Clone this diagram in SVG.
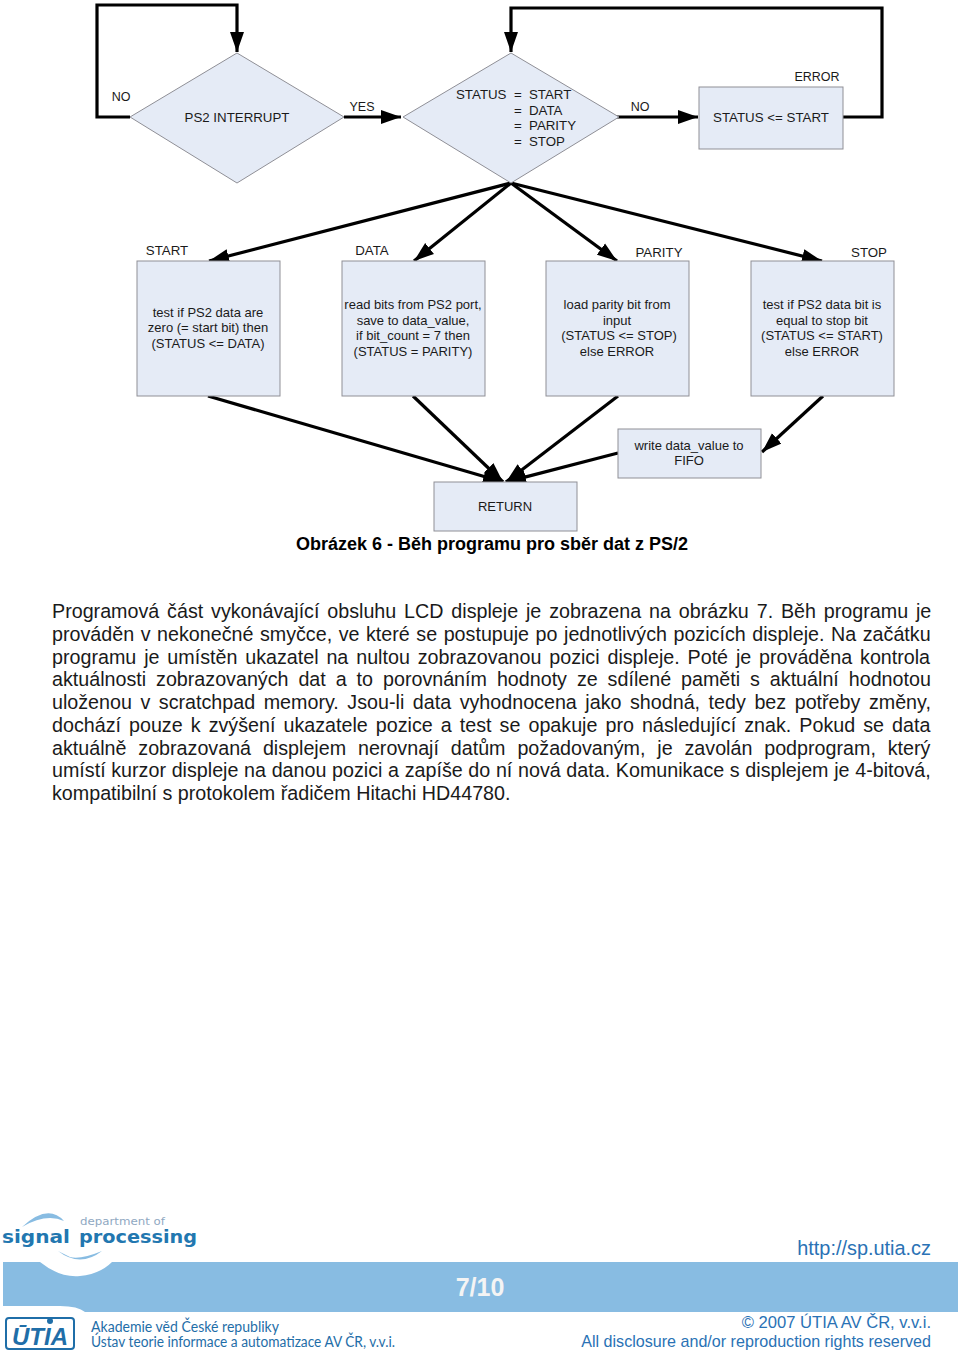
<svg xmlns="http://www.w3.org/2000/svg" width="960" height="1353" viewBox="0 0 960 1353">
<style>
text{font-family:"Liberation Sans",Arial,sans-serif;fill:#1a1a1a}
.n{fill:#e5ebf6;stroke:#8f8f96;stroke-width:1}
.t{font-size:13.3px;text-anchor:middle}
.st{font-size:13.3px}
.s{font-size:13px;text-anchor:middle}
.l{font-size:12.5px;text-anchor:middle}
.c{fill:none;stroke:#000;stroke-width:3.2}
.b text{font-size:19.7px}
.f{fill:#2a72b5;text-anchor:end}
.u{font-family:Lato,sans-serif;font-size:14.5px;fill:#1f6ea8}
.g{font-family:"DejaVu Sans",sans-serif;font-size:18px;font-weight:bold;fill:#2277b0}
</style>
<defs>
<marker id="a" markerUnits="userSpaceOnUse" markerWidth="22" markerHeight="15" refX="20" refY="7.5" orient="auto"><path d="M0 0.5L20 7.5L0 14.500z" fill="#000"/></marker>
</defs>
<rect width="960" height="1353" fill="#fff"/>
<g id="connectors">
<path class="c" marker-end="url(#a)" d="M130 117H97V5H237V52"/>
<path class="c" marker-end="url(#a)" d="M344 117H401"/>
<path class="c" marker-end="url(#a)" d="M590 117H698"/>
<path class="c" marker-end="url(#a)" d="M843 117H882V8H511V52"/>
<path class="c" marker-end="url(#a)" d="M511 183L209 261"/>
<path class="c" marker-end="url(#a)" d="M511 183L414 261"/>
<path class="c" marker-end="url(#a)" d="M511 183L617 261"/>
<path class="c" marker-end="url(#a)" d="M511 183L822 261"/>
<path class="c" marker-end="url(#a)" d="M208 396L503 482"/>
<path class="c" marker-end="url(#a)" d="M413 396L503 482"/>
<path class="c" marker-end="url(#a)" d="M618 396L506 482"/>
<path class="c" marker-end="url(#a)" d="M618 453L506 482"/>
<path class="c" marker-end="url(#a)" d="M823 396L762 452"/>
</g>
<g id="n1"><polygon class="n" points="130,117 237,53 344,117 237,183"/><text class="t" x="237" y="122">PS2 INTERRUPT</text></g>
<g id="n2"><polygon class="n" points="403,117 511,53 619,117 511,183"/>
<text class="st" y="99"><tspan x="456">STATUS</tspan><tspan x="514">=</tspan><tspan x="529">START</tspan></text>
<text class="st" y="115"><tspan x="514">=</tspan><tspan x="529">DATA</tspan></text>
<text class="st" y="130"><tspan x="514">=</tspan><tspan x="529">PARITY</tspan></text>
<text class="st" y="146"><tspan x="514">=</tspan><tspan x="529">STOP</tspan></text></g>
<g id="n3"><rect class="n" x="699" y="87" width="144" height="62"/><text class="t" x="771" y="122">STATUS &lt;= START</text></g>
<g id="n4"><rect class="n" x="137" y="261" width="143" height="135"/><text class="s" x="208" y="317">test if PS2 data are</text><text class="s" x="208" y="332">zero (= start bit) then</text><text class="s" x="208" y="348">(STATUS &lt;= DATA)</text></g>
<g id="n5"><rect class="n" x="342" y="261" width="143" height="135"/><text class="s" x="413" y="309">read bits from PS2 port,</text><text class="s" x="413" y="325">save to data_value,</text><text class="s" x="413" y="340">if bit_count = 7 then</text><text class="s" x="413" y="356">(STATUS = PARITY)</text></g>
<g id="n6"><rect class="n" x="546" y="261" width="143" height="135"/><text class="s" x="617" y="309">load parity bit from</text><text class="s" x="617" y="325">input</text><text class="s" x="619" y="340">(STATUS &lt;= STOP)</text><text class="s" x="617" y="356">else ERROR</text></g>
<g id="n7"><rect class="n" x="751" y="261" width="143" height="135"/><text class="s" x="822" y="309">test if PS2 data bit is</text><text class="s" x="822" y="325">equal to stop bit</text><text class="s" x="822" y="340">(STATUS &lt;= START)</text><text class="s" x="822" y="356">else ERROR</text></g>
<g id="n8"><rect class="n" x="618" y="429" width="143" height="49"/><text class="s" x="689" y="450">write data_value to</text><text class="s" x="689" y="465">FIFO</text></g>
<g id="n9"><rect class="n" x="434" y="482" width="143" height="49"/><text class="s" x="505" y="511">RETURN</text></g>
<g id="labels">
<text class="l" x="121" y="101">NO</text><text class="l" x="362" y="111">YES</text><text class="l" x="640" y="111">NO</text><text class="l" x="817" y="81">ERROR</text>
<text class="t" x="167" y="255">START</text><text class="t" x="372" y="255">DATA</text><text class="t" x="659" y="257">PARITY</text><text class="t" x="869" y="257">STOP</text>
</g>
<text x="492" y="550" style="font-size:18px;font-weight:bold;text-anchor:middle;fill:#000">Obrázek 6 - Běh programu pro sběr dat z PS/2</text>
<g class="b">
<text x="52" y="618" word-spacing="2.4">Programová část vykonávající obsluhu LCD displeje je zobrazena na obrázku 7. Běh programu je</text>
<text x="52" y="641" word-spacing="1.08">prováděn v nekonečné smyčce, ve které se postupuje po jednotlivých pozicích displeje. Na začátku</text>
<text x="52" y="664" word-spacing="2.4">programu je umístěn ukazatel na nultou zobrazovanou pozici displeje. Poté je prováděna kontrola</text>
<text x="52" y="686" word-spacing="4.47">aktuálnosti zobrazovaných dat a to porovnáním hodnoty ze sdílené paměti s aktuální hodnotou</text>
<text x="52" y="709" word-spacing="3.08">uloženou v scratchpad memory. Jsou-li data vyhodnocena jako shodná, tedy bez potřeby změny,</text>
<text x="52" y="732" word-spacing="2.6">dochází pouze k zvýšení ukazatele pozice a test se opakuje pro následující znak. Pokud se data</text>
<text x="52" y="755" word-spacing="6.4">aktuálně zobrazovaná displejem nerovnají datům požadovaným, je zavolán podprogram, který</text>
<text x="52" y="777" word-spacing="0.2">umístí kurzor displeje na danou pozici a zapíše do ní nová data. Komunikace s displejem je 4-bitová,</text>
<text x="52" y="800">kompatibilní s protokolem řadičem Hitachi HD44780.</text>
</g>
<g id="footer">
<path d="M3 1262H40Q60 1278 80 1276Q100 1274 112 1262H958V1312H85Q78 1306 60 1306H3z" fill="#88bce2"/>
<path d="M22 1227Q48 1203 64 1221Q46 1213 22 1227zM58 1251Q80 1268 102 1251Q80 1260 70 1257z" fill="#88bce2"/>
<text x="80" y="1225" textLength="85" lengthAdjust="spacingAndGlyphs" style="font-family:'DejaVu Sans',sans-serif;font-size:11px;fill:#8fa8c2">department of</text>
<text class="g" x="2" y="1243" textLength="68" lengthAdjust="spacingAndGlyphs">signal</text>
<text class="g" x="79" y="1243" textLength="118" lengthAdjust="spacingAndGlyphs">processing</text>
<text x="480" y="1296" style="font-size:25px;font-weight:bold;fill:#f4f4f4;text-anchor:middle">7/10</text>
<text class="f" x="931" y="1255" style="font-size:19.9px">http://sp.utia.cz</text>
<text class="f" x="931" y="1328" style="font-size:16.6px">© 2007 ÚTIA AV ČR, v.v.i.</text>
<text class="f" x="931" y="1347" style="font-size:16.1px">All disclosure and/or reproduction rights reserved</text>
<rect x="6" y="1318" width="68" height="31" rx="3" fill="#fff" stroke="#1f6ea8" stroke-width="2"/>
<text x="40" y="1345" style="font-size:24px;font-weight:bold;font-style:italic;fill:#1f6ea8;text-anchor:middle">ŪTIA</text>
<circle cx="50" cy="1321" r="3" fill="#1f6ea8"/>
<text class="u" x="91" y="1332" textLength="188" lengthAdjust="spacingAndGlyphs">Akademie věd České republiky</text>
<text class="u" x="91" y="1347" textLength="304" lengthAdjust="spacingAndGlyphs">Ústav teorie informace a automatizace AV ČR, v.v.i.</text>
</g>
</svg>
